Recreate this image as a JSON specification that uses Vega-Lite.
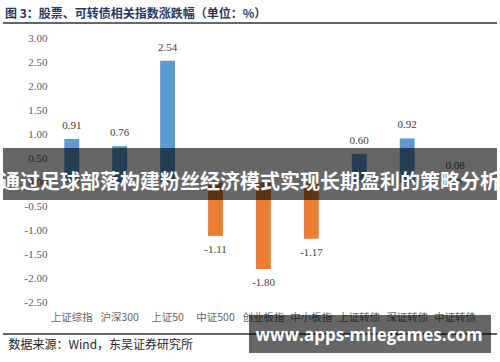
{
  "$schema": "https://vega.github.io/schema/vega-lite/v6.json",
  "width": 494,
  "height": 311,
  "autosize": {"type": "none"},
  "padding": {"left": 3, "top": 23, "right": 3, "bottom": 28},
  "background": "white",
  "config": {
    "view": {"stroke": null},
    "axis": {"labelOverlap": false},
    "locale": {"number": {"decimal": ".", "thousands": ",", "grouping": [3], "currency": ["", ""], "minus": "-"}}
  },
  "title": {
    "text": "图 3：股票、可转债相关指数涨跌幅（单位：%）",
    "anchor": "start",
    "dx": 5,
    "offset": 1,
    "font": "Noto Sans CJK SC",
    "fontSize": 12,
    "fontWeight": "bold",
    "color": "#1F3864"
  },
  "datasets": {
    "bars": [
      {"name": "上证综指", "value": 0.91},
      {"name": "沪深300", "value": 0.76},
      {"name": "上证50", "value": 2.54},
      {"name": "中证500", "value": -1.11},
      {"name": "创业板指", "value": -1.80},
      {"name": "中小板指", "value": -1.17},
      {"name": "上证转债", "value": 0.60},
      {"name": "深证转债", "value": 0.92},
      {"name": "中证转债", "value": 0.08}
    ],
    "one": [{"item": "annotation"}]
  },
  "resolve": {"scale": {"x": "independent"}, "axis": {"x": "independent", "y": "independent"}},
  "layer": [
    {
      "data": {"name": "bars"},
      "encoding": {
        "x": {
          "field": "name",
          "type": "nominal",
          "sort": null,
          "scale": {"paddingInner": 0.69, "paddingOuter": 1.15, "align": 0.64, "round": false},
          "axis": {
            "title": "数据来源：Wind，东吴证券研究所",
            "titleX": 5,
            "titleY": 10,
            "titleAlign": "left",
            "titleAnchor": "start",
            "titleBaseline": "middle",
            "titleFont": "Noto Sans CJK SC",
            "titleFontSize": 12,
            "titleFontWeight": "normal",
            "titleColor": "#262626",
            "labelAngle": 0,
            "labelFont": "Noto Sans CJK SC",
            "labelFontSize": 10.5,
            "labelColor": "#666666",
            "labelPadding": -17,
            "labelBaseline": "middle",
            "labelOverlap": false,
            "labelLimit": 0,
            "ticks": false,
            "tickSize": 0,
            "domain": false,
            "grid": false
          }
        },
        "y": {
          "field": "value",
          "type": "quantitative",
          "scale": {"domain": [-3.154, 3.325], "nice": false, "zero": false},
          "axis": {
            "orient": "left",
            "offset": -48,
            "values": [-2.5, -2, -1.5, -1, -0.5, 0, 0.5, 1, 1.5, 2, 2.5, 3],
            "format": ".2f",
            "labelFont": "Liberation Serif",
            "labelFontSize": 11,
            "labelColor": "#595959",
            "labelPadding": 4,
            "labelOverlap": false,
            "labelBound": false,
            "labelFlush": false,
            "domain": false,
            "ticks": false,
            "grid": false,
            "title": null
          }
        }
      },
      "layer": [
        {
          "mark": {"type": "bar"},
          "encoding": {
            "color": {
              "condition": {"test": "datum.value < 0", "value": "#ED7D31"},
              "value": "#5B9BD5"
            }
          }
        },
        {
          "transform": [{"filter": "datum.value >= 0"}],
          "mark": {"type": "text", "baseline": "middle", "dy": -13, "font": "Liberation Serif", "fontSize": 11, "color": "#404040"},
          "encoding": {"text": {"field": "value", "type": "quantitative", "format": ".2f"}}
        },
        {
          "transform": [{"filter": "datum.value < 0"}],
          "mark": {"type": "text", "baseline": "middle", "dy": 14, "font": "Liberation Serif", "fontSize": 11, "color": "#404040"},
          "encoding": {"text": {"field": "value", "type": "quantitative", "format": ".2f"}}
        }
      ]
    },
    {
      "data": {"name": "one"},
      "mark": {"type": "rule", "color": "#333333", "strokeWidth": 1.5},
      "encoding": {"y": {"datum": 3.325, "axis": null}}
    },
    {
      "data": {"name": "one"},
      "mark": {"type": "rule", "color": "#333333", "strokeWidth": 1.5},
      "encoding": {"y": {"datum": -3.154, "axis": null}}
    },
    {
      "data": {"name": "one"},
      "mark": {"type": "rect", "color": "black", "opacity": 0.6},
      "encoding": {"y": {"datum": 0.721, "axis": null}, "y2": {"datum": -0.3625}}
    },
    {
      "data": {"name": "one"},
      "mark": {
        "type": "text",
        "text": "通过足球部落构建粉丝经济模式实现长期盈利的策略分析",
        "font": "Noto Sans CJK SC",
        "fontSize": 20,
        "fontWeight": "bold",
        "color": "white",
        "baseline": "middle",
        "align": "center"
      },
      "encoding": {"y": {"datum": 0, "axis": null}}
    },
    {
      "data": {"name": "one"},
      "encoding": {
        "x": {"datum": 246, "type": "quantitative", "scale": {"domain": [0, 494], "nice": false, "zero": false}, "axis": null}
      },
      "layer": [
        {
          "mark": {"type": "rect", "color": "black", "opacity": 0.6},
          "encoding": {
            "x2": {"datum": 488},
            "y": {"datum": -2.758, "axis": null},
            "y2": {"datum": -3.55}
          }
        },
        {
          "mark": {
            "type": "text",
            "text": "www.apps-milegames.com",
            "font": "Open Sans",
            "fontSize": 17,
            "fontWeight": "bold",
            "color": "white",
            "baseline": "middle",
            "align": "center"
          },
          "encoding": {
            "x": {"datum": 366, "type": "quantitative", "scale": {"domain": [0, 494], "nice": false, "zero": false}, "axis": null},
            "y": {"datum": -3.196, "axis": null}
          }
        }
      ]
    }
  ]
}
